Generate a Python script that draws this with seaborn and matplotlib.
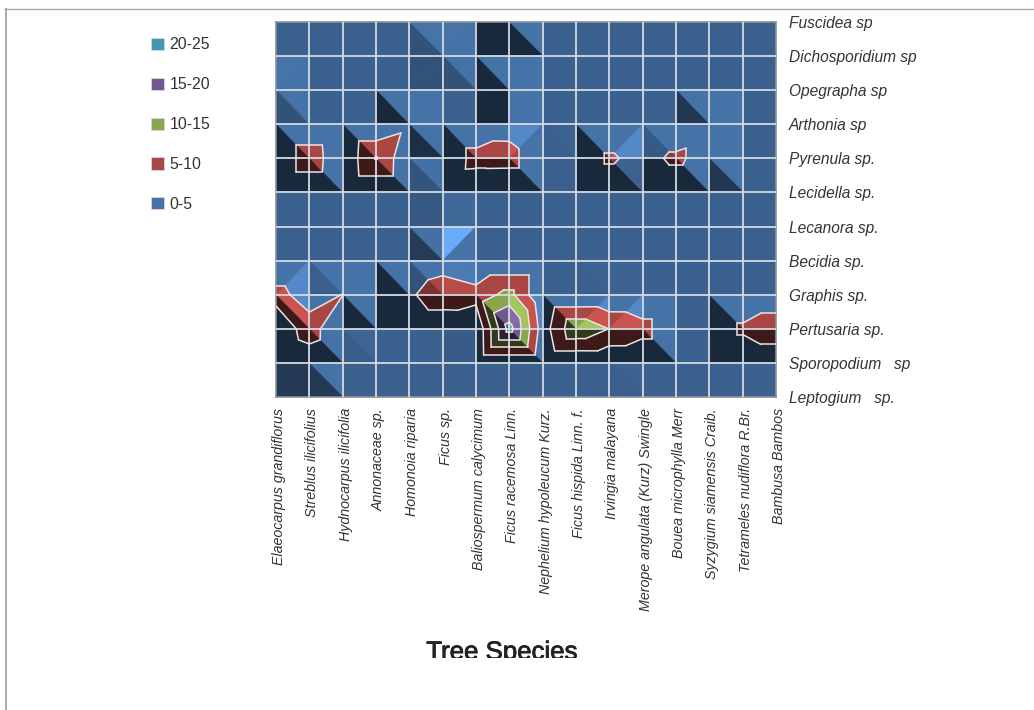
import numpy as np
import pandas as pd
import seaborn as sns
import matplotlib.pyplot as plt
import matplotlib.patheffects as pe
from matplotlib.colors import to_rgb
from matplotlib.lines import Line2D
from matplotlib.patches import Patch
from matplotlib.transforms import Bbox, ScaledTranslation

tree_species = ["Elaeocarpus grandiflorus", "Streblus ilicifolius", "Hydnocarpus ilicifolia",
                "Annonaceae sp.", "Homonoia riparia", "Ficus sp.", "Baliospermum calycimum",
                "Ficus racemosa Linn.", "Nephelium hypoleucum Kurz.", "Ficus hispida Linn. f.",
                "Irvingia malayana", "Merope angulata (Kurz) Swingle", "Bouea microphylla Merr",
                "Syzygium siamensis Craib.", "Tetrameles nudiflora R.Br.", "Bambusa Bambos"]
lichens = ["Fuscidea sp", "Dichosporidium sp", "Opegrapha sp", "Arthonia sp", "Pyrenula sp.",
           "Lecidella sp.", "Lecanora sp.", "Becidia sp.", "Graphis sp.", "Pertusaria sp.",
           "Sporopodium   sp", "Leptogium   sp."]

# one row per lichen, one value per tree
fuscidea =       [0, 0, 0, 0, 0, 0, 0, 3, 0, 0, 0, 0, 0, 0, 0, 0]
dichosporidium = [0, 0, 0, 0, 0, 1, 0, 0, 0, 0, 0, 0, 0, 0, 0, 0]
opegrapha =      [1, 0, 0, 0, 0, 0, 0, 3, 0, 0, 0, 0, 0, 0, 0, 0]
arthonia =       [0, 0, 0, 0, 3.2, 0, 0, 3, 0, 0, 0, 0, 0, 2.1, 0, 0]
pyrenula =       [0, 8.2, 0.6, 10.3, 0.3, 0, 7.1, 7, 0, 0.1, 5.9, 2.9, 6.25, 2.1, 0, 0]
lecidella =      [0, 0, 0, 0, 0, 0.5, 0, 0, 0, 0, 0, 0, 0, 0, 0, 0]
lecanora =       [0, 0, 0, 0, 0, 0.5, 0, 0, 0, 0, 0, 0, 0, 0, 0, 0]
becidia =        [0, 0, 0, 0, 0, 1.9, 0, 0, 0, 0, 0, 0, 0, 0, 0, 0]
graphis =        [6.8, 2.5, 5.1, 0, 4, 8.9, 7, 11.8, 0, 0, 0.1, 0, 0, 0, 0, 0]
pertusaria =     [1.3, 7.4, 0.2, 0, 0, 0, 0.3, 22, 2.4, 14, 9.9, 7, 0, 0, 6, 9.2]
sporopodium =    [0, 2, 0, 0, 0, 0, 0, 0, 0, 0, 0.1, 0, 0, 0, 0, 0]
leptogium =      [0, 0, 0, 0, 0, 0, 0, 0, 0, 0, 0, 0, 0, 0, 0, 0]

band_labels = ["0-5", "5-10", "10-15", "15-20", "20-25"]
band_colors = ["#4572A7", "#AA4643", "#89A54E", "#71588F", "#4198AF"]
levels = [0, 5, 10, 15, 20, 25]

z = pd.DataFrame([fuscidea, dichosporidium, opegrapha, arthonia, pyrenula, lecidella, lecanora,
                  becidia, graphis, pertusaria, sporopodium, leptogium],
                 index=lichens, columns=tree_species)

W, H = 1034, 710
plt.rcParams["font.family"] = ["Liberation Sans", "DejaVu Sans"]
fig = plt.figure(figsize=(W / 100, H / 100), dpi=100)
ax = fig.add_axes([276 / W, 1 - 397 / H, 500 / W, 375 / H])

# heatmap gives the axes and the base colour, facets go on top
sns.heatmap(z.iloc[:-1, :-1], ax=ax, cbar=False, vmin=0, vmax=25,
            cmap=sns.color_palette(band_colors), xticklabels=False, yticklabels=False)


def light(tri):
    # flat top view of a lit surface, light comes from upper right
    (x0, y0, a), (x1, y1, b), (x2, y2, c) = tri
    m = np.array([[x1 - x0, y1 - y0], [x2 - x0, y2 - y0]], float)
    gx, gy = np.linalg.solve(m, [b - a, c - a])
    k = np.interp(gy - gx, [-3, -2, -1, 0, 1], [0.36, 0.5, 0.72, 0.85, 1.0])
    # highlight at one tilt, and a weaker one on steep facets that lean both ways
    k += 0.5 * np.exp(-((gx + 0.5) ** 2 + (gy - 1.4) ** 2) / 0.1)
    k += np.interp(min(-gx, gy), [1.5, 2.5], [0, 0.2])
    return k


def clip(poly, level, keep_above):
    out = []
    for i in range(len(poly)):
        p, q = poly[i], poly[(i + 1) % len(poly)]
        p_in = (p[2] >= level) == keep_above
        q_in = (q[2] >= level) == keep_above
        if p_in:
            out.append(p)
        if p_in != q_in:
            f = (level - p[2]) / (q[2] - p[2])
            out.append((p[0] + f * (q[0] - p[0]), p[1] + f * (q[1] - p[1]), level))
    return out


def shade(color, k):
    return tuple(np.clip(np.array(to_rgb(color)) * k, 0, 1))


values = z.to_numpy(float)
contour_segments = []
for r in range(values.shape[0] - 1):
    for c in range(values.shape[1] - 1):
        tl = (c, r, values[r, c])
        tr = (c + 1, r, values[r, c + 1])
        bl = (c, r + 1, values[r + 1, c])
        br = (c + 1, r + 1, values[r + 1, c + 1])
        top = max(tl[2], tr[2], bl[2], br[2])
        # the split runs through the highest corner
        if (tr[2] == top or bl[2] == top) and tl[2] != top and br[2] != top:
            tris = [(tl, tr, bl), (tr, bl, br)]
        else:
            tris = [(tl, tr, br), (tl, bl, br)]
        for tri in tris:
            k = light(tri)
            for i, color in enumerate(band_colors):
                poly = clip(list(tri), levels[i], True)
                poly = clip(poly, levels[i + 1], False) if poly else poly
                if len(poly) > 2:
                    ax.fill([p[0] for p in poly], [p[1] for p in poly], color=shade(color, k),
                            lw=0.3, zorder=2)
            for lev in levels[1:-1]:
                pts = []
                for i in range(3):
                    p, q = tri[i], tri[(i + 1) % 3]
                    if (p[2] >= lev) != (q[2] >= lev):
                        f = (lev - p[2]) / (q[2] - p[2])
                        pts.append((p[0] + f * (q[0] - p[0]), p[1] + f * (q[1] - p[1])))
                if len(pts) == 2:
                    contour_segments.append(pts)

grid_color = "#d5dae2"
ax.vlines(range(1, 15), 0, 11, color=grid_color, lw=1.3, zorder=3)
ax.hlines(range(1, 11), 0, 15, color=grid_color, lw=1.3, zorder=3)
for seg in contour_segments:
    ax.plot([seg[0][0], seg[1][0]], [seg[0][1], seg[1][1]], color="#ece4e4", lw=1.1,
            solid_capstyle="round", zorder=4)

ax.set_xlim(0, 15)
ax.set_ylim(11, 0)
for side in ax.spines.values():
    side.set_visible(True)
    side.set_color("#8a9099")
    side.set_linewidth(1.2)

ax.yaxis.tick_right()
ax.set_xticks(range(16))
ax.set_yticks(range(12))
ax.set_xticklabels(tree_species, rotation=90, style="italic", fontsize=10.25, color="#333333")
ax.set_yticklabels(lichens, rotation=0, style="italic", fontsize=11.2, color="#333333")
ax.tick_params(axis="x", length=0, pad=8)
ax.tick_params(axis="y", length=0, pad=9.4)
nudge = ScaledTranslation(3 / 100, 0, fig.dpi_scale_trans)
for lab in ax.get_xticklabels():
    lab.set_transform(lab.get_transform() + nudge)

# legend is listed from the highest band down
handles = [Patch(facecolor=band_colors[i], edgecolor="#d8d8e0", lw=0.6) for i in range(4, -1, -1)]
fig.legend(handles, band_labels[::-1], loc="upper left", bbox_to_anchor=(137 / W, 1 - 23 / H),
           frameon=False, fontsize=11.4, handlelength=0.8, handleheight=0.8, handletextpad=0.35,
           labelspacing=1.574, labelcolor="#333333")

title = fig.text(502 / W, 1 - 659.4 / H, "Tree Species", fontsize=18.6, ha="center", va="baseline",
                 color="#222222", path_effects=[pe.withStroke(linewidth=0.6, foreground="#222222")])
title.set_clip_box(Bbox([[0, H - 658], [W, H]]))
title.set_clip_on(True)

# page border of the screenshot
fig.add_artist(Line2D([5 / W, 1], [1 - 8.5 / H, 1 - 8.5 / H], color="#a8a8a8", lw=1))
fig.add_artist(Line2D([6 / W, 6 / W], [0, 1 - 8.5 / H], color="#a8a8a8", lw=1.4))

fig.savefig("out.png", dpi=100)
